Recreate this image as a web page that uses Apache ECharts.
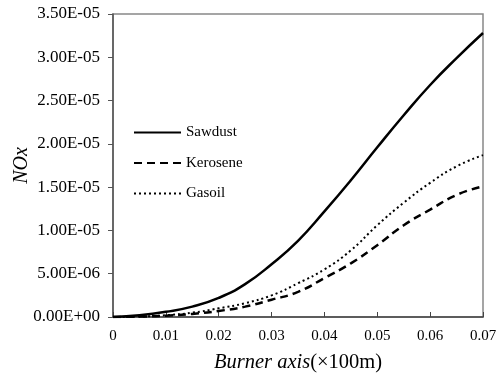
<!DOCTYPE html>
<html>
<head>
<meta charset="utf-8">
<script src="https://cdn.jsdelivr.net/npm/echarts@6/dist/echarts.min.js"></script>
<style>html,body{margin:0;padding:0;background:#fff}#c{width:497px;height:376px}</style>
</head>
<body>
<div id="c"></div>
<script>
const xValues = [0, 0.005, 0.01, 0.015, 0.02, 0.025, 0.03, 0.035, 0.04, 0.045, 0.05, 0.055, 0.06, 0.065, 0.07];
const sawdust = [0, 0.2e-6, 0.6e-6, 1.2e-6, 2.2e-6, 3.8e-6, 6.1e-6, 8.8e-6, 1.22e-5, 1.58e-5, 1.96e-5, 2.33e-5, 2.68e-5, 2.99e-5, 3.28e-5];
const kerosene = [0, 0.05e-6, 0.15e-6, 0.35e-6, 0.7e-6, 1.2e-6, 2.0e-6, 2.9e-6, 4.5e-6, 6.2e-6, 8.3e-6, 1.06e-5, 1.24e-5, 1.41e-5, 1.51e-5];
const gasoil = [0, 0.05e-6, 0.2e-6, 0.5e-6, 1.0e-6, 1.6e-6, 2.5e-6, 3.9e-6, 5.5e-6, 7.7e-6, 1.06e-5, 1.32e-5, 1.55e-5, 1.74e-5, 1.87e-5];
const seriesNames = ['Sawdust', 'Kerosene', 'Gasoil'];

function fmtE(v) {
  if (v === 0) return '0.00E+00';
  const s = v.toExponential(2);
  const parts = s.split('e');
  let exp = parseInt(parts[1], 10);
  const sign = exp < 0 ? '-' : '+';
  exp = Math.abs(exp);
  return parts[0] + 'E' + sign + (exp < 10 ? '0' + exp : '' + exp);
}
function pairs(arr) { return xValues.map((x, i) => [x, arr[i]]); }

const font = 'Liberation Serif';
const chart = echarts.init(document.getElementById('c'), null, {renderer: 'canvas'});
chart.setOption({
  animation: false,
  backgroundColor: '#fff',
  grid: {left: 113, right: 14, top: 14, bottom: 59, outerBoundsMode: 'none', containLabel: false, show: true, borderColor: '#888', borderWidth: 1.5, backgroundColor: 'transparent'},
  legend: {
    orient: 'vertical', left: 128, top: 120, itemWidth: 47, itemHeight: 14, itemGap: 15.5,
    itemStyle: {color: 'rgba(0,0,0,0)', borderColor: 'rgba(0,0,0,0)', borderWidth: 0},
    textStyle: {fontFamily: font, fontSize: 15, color: '#000'},
    data: seriesNames
  },
  xAxis: {
    type: 'value', min: 0, max: 0.07, interval: 0.01,
    name: '{i|Burner axis}{n|(×100m)}', nameLocation: 'middle', nameGap: 35, nameMoveOverlap: false,
    nameTextStyle: {rich: {i: {fontFamily: font, fontStyle: 'italic', fontSize: 20.5, color: '#000'}, n: {fontFamily: font, fontSize: 20.5, color: '#000'}}},
    axisLine: {lineStyle: {color: '#444', width: 1.5}},
    axisTick: {inside: true, length: 5, lineStyle: {color: '#444'}},
    axisLabel: {fontFamily: font, fontSize: 15, color: '#000', margin: 12, formatter: v => v === 0 ? '0' : v.toFixed(2)},
    splitLine: {show: false}
  },
  yAxis: {
    type: 'value', min: 0, max: 3.5e-5, interval: 5e-6,
    name: 'NOx', nameLocation: 'middle', nameGap: 81, nameMoveOverlap: false,
    nameTextStyle: {fontFamily: font, fontStyle: 'italic', fontSize: 20, color: '#000'},
    axisLine: {show: true, lineStyle: {color: '#555', width: 1.5}},
    axisTick: {show: true, inside: false, length: 5, lineStyle: {color: '#555'}},
    axisLabel: {fontFamily: font, fontSize: 17, color: '#000', margin: 13, formatter: fmtE},
    splitLine: {show: false}
  },
  series: [
    {name: 'Sawdust', type: 'line', data: pairs(sawdust), smooth: true, symbol: 'none', lineStyle: {color: '#000', width: 2.5, type: 'solid'}, itemStyle: {color: '#000'}},
    {name: 'Kerosene', type: 'line', data: pairs(kerosene), smooth: true, symbol: 'none', lineStyle: {color: '#000', width: 2.5, type: [8, 5]}, itemStyle: {color: '#000'}},
    {name: 'Gasoil', type: 'line', data: pairs(gasoil), smooth: true, symbol: 'none', lineStyle: {color: '#000', width: 2, type: [2, 3]}, itemStyle: {color: '#000'}}
  ]
});
</script>
</body>
</html>
